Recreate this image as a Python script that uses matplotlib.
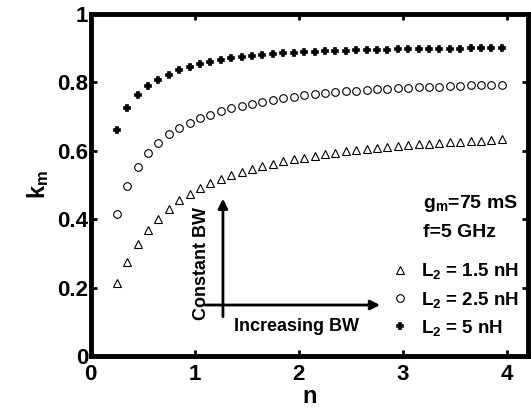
import matplotlib.pyplot as plt
import numpy as np

plt.rcParams['font.family'] = ['Liberation Sans', 'DejaVu Sans']
plt.rcParams['font.weight'] = 'bold'
plt.rcParams['mathtext.fontset'] = 'custom'
plt.rcParams['mathtext.rm'] = 'Liberation Sans:bold'
plt.rcParams['mathtext.it'] = 'Liberation Sans:bold'
plt.rcParams['mathtext.bf'] = 'Liberation Sans:bold'

n = np.round(np.arange(0.25, 4.0, 0.1), 2)

k_l15 = [0.213, 0.275, 0.326, 0.368, 0.402, 0.430, 0.455, 0.474, 0.491, 0.505,
         0.517, 0.528, 0.538, 0.547, 0.555, 0.562, 0.569, 0.575, 0.580, 0.585,
         0.590, 0.594, 0.598, 0.602, 0.605, 0.608, 0.611, 0.614, 0.616, 0.619,
         0.621, 0.623, 0.625, 0.627, 0.629, 0.630, 0.632, 0.634]
k_l25 = [0.414, 0.497, 0.554, 0.594, 0.624, 0.648, 0.667, 0.682, 0.695, 0.706,
         0.716, 0.724, 0.731, 0.738, 0.744, 0.749, 0.754, 0.758, 0.762, 0.765,
         0.768, 0.771, 0.774, 0.776, 0.778, 0.780, 0.782, 0.783, 0.785, 0.786,
         0.787, 0.788, 0.789, 0.790, 0.791, 0.792, 0.792, 0.793]
k_l5 = [0.661, 0.726, 0.763, 0.789, 0.808, 0.823, 0.835, 0.845, 0.853, 0.859,
        0.865, 0.870, 0.874, 0.877, 0.880, 0.883, 0.885, 0.887, 0.889, 0.890,
        0.891, 0.892, 0.893, 0.894, 0.895, 0.896, 0.896, 0.897, 0.897, 0.898,
        0.898, 0.899, 0.899, 0.899, 0.900, 0.900, 0.900, 0.901]

fig = plt.figure(figsize=(5.31, 4.12), dpi=100)
ax = fig.add_axes([0.171, 0.136, 0.823, 0.830])

ax.plot(n, k_l15, linestyle='none', marker='^', markersize=5.5, mfc='white',
        mec='black', mew=0.8, label='L$_2$ = 1.5 nH')
ax.plot(n, k_l25, linestyle='none', marker='o', markersize=5.5, mfc='white',
        mec='black', mew=0.8, label='L$_2$ = 2.5 nH')
ax.plot(n, k_l5, linestyle='none', marker='P', markersize=5, mfc='black',
        mec='black', mew=1.2, label='L$_2$ = 5 nH')

ax.set_xlim(0, 4.2)
ax.set_ylim(0, 1)
ax.set_xticks([0, 1, 2, 3, 4])
ax.set_yticks([0, 0.2, 0.4, 0.6, 0.8, 1])
ax.set_yticklabels(['0', '0.2', '0.4', '0.6', '0.8', '1'])
ax.tick_params(direction='in', length=4, width=2, labelsize=16, pad=2,
               top=True, right=True)
ax.tick_params(axis='x', pad=6)
for s in ax.spines.values():
    s.set_linewidth(3.5)

ax.set_xlabel('n', fontsize=17, fontweight='bold', labelpad=0)
ax.set_ylabel('k$_m$', fontsize=17, fontweight='bold', labelpad=4)

# arrows
ax.annotate('', xy=(1.27, 0.46), xytext=(1.27, 0.115),
            arrowprops=dict(arrowstyle='-|>', lw=2, color='black',
                            mutation_scale=14, shrinkA=0, shrinkB=0))
ax.annotate('', xy=(2.78, 0.149), xytext=(1.1, 0.149),
            arrowprops=dict(arrowstyle='-|>', lw=2, color='black',
                            mutation_scale=14, shrinkA=0, shrinkB=0))
ax.text(1.06, 0.27, 'Constant BW', rotation=90, fontsize=13,
        fontweight='bold', ha='center', va='center')
ax.text(1.98, 0.085, 'Increasing BW', fontsize=13, fontweight='bold',
        ha='center', va='center')

ax.text(3.19, 0.447, 'g$_m$=75 mS', fontsize=14, fontweight='bold',
        ha='left', va='center')
ax.text(3.19, 0.36, 'f=5 GHz', fontsize=14, fontweight='bold',
        ha='left', va='center')

leg = ax.legend(loc='lower left', bbox_to_anchor=(0.665, 0.025), frameon=False,
                fontsize=13.5, handlelength=1.0, handletextpad=0.6,
                labelspacing=0.45, borderpad=0)

fig.savefig('out.png', dpi=100)
